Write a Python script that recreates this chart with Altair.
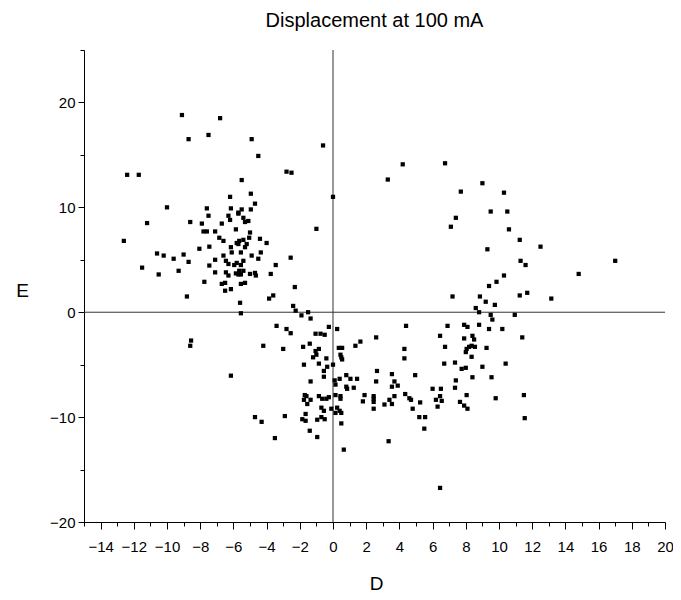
import altair as alt
import pandas as pd

# Scatter values (D = x, E = y)
D = [
    -9.1, -6.8, -7.5, -8.7, -12.4, -11.7, -6.2, -10.0, -7.6, -6.15, -7.5, -6.3, -6.2, -11.2, -8.6, -7.9, -6.7, -7.8, -7.6, -7.1, -5.85, -5.7,
    -4.9, -4.5, -0.6, -2.8, -2.5, -5.5, 0.0, -4.95, -4.7, -5.5, -4.95, -5.7, -5.4, -5.3, -5.1, -5.0, -1.0,
    4.2, 3.3, 6.75, 9.0, 7.7, 9.5, 7.4, 7.1,
    10.3, 10.5, 10.6,
    -12.6, -10.6, -10.2, -9.6, -9.0, -8.7, -11.5, -10.5, -9.3, -8.05, -7.45, -6.85, -6.6, -6.15, -6.1, -5.8, -7.1, -7.45, -6.6, -6.45, -6.3, -5.95, -5.8, -7.1, -6.45, -6.3, -5.85, -7.75, -6.7, -6.5, -6.15, -6.5, -8.8, -8.55, -8.6,
    -5.05, -4.4, -4.0, -5.65, -5.4, -5.7, -5.2, -5.3, -5.55, -4.35, -4.9, -4.5, -2.55, -5.4, -5.55, -3.45, -5.4, -5.65, -5.7, -5.55, -5.0, -4.7, -4.65, -3.75, -5.3, -5.55, -2.3, -3.6, -3.85, -5.6, -5.55, -2.4, -2.25, -1.9, -1.5, -1.35, -3.4, -2.8, -2.55, -0.25, 0.25, -1.05, -0.75, -0.5, 1.65, 1.35, -4.2, -3.0, -1.8, -1.4, -0.85, -1.05, -1.0, -1.2, -0.4, 0.35, 0.55, 0.45, 0.5, 0.55, -1.75, -0.85, 0.0,
    9.3, 9.85, 9.4, 7.2, 8.85, 9.2, 9.75, 8.6, 8.8, 9.5, 9.6, 4.4, 6.9, 7.9, 8.1, 8.8, 9.4, 2.6, 6.45, 7.9, 8.4, 8.5, 4.3, 6.75, 8.2, 8.35, 8.55, 8.05, 8.0, 9.25, 4.3, 8.35, 6.7, 7.35,
    11.25, 12.5, 11.3, 11.6, 17.0, 14.8, 10.3, 11.25, 11.7, 13.15, 10.95, 10.2, 11.4, 10.4,
    -6.15,
    -0.35, -0.55, -0.55, -1.35, 0.1, 0.4, 0.15, 0.8, 1.05, 1.45, 0.8, 0.85, 1.25, 1.9, 1.8, -1.7, -1.6, -1.75, -1.35, -1.55, -0.85, -0.65, -0.4, -0.25, 0.15, 0.45, 0.45, -0.7, -0.55, -0.1, 0.25, 0.4, 0.15, 0.5, -1.65, -1.85, -1.65, -0.95, -0.7, -0.5, -2.9, -4.7, -4.3, -3.5, -1.4, -0.95, 0.5, 0.65,
    7.75, 8.0, 9.0, 2.65, 3.55, 4.95, 8.4, 9.55, 2.6, 3.7, 3.55, 3.9, 7.4, 7.35, 6.0, 6.5, 2.45, 2.45, 2.45, 3.7, 3.4, 3.55, 3.1, 2.45, 4.35, 4.6, 4.7, 5.25, 4.8, 5.2, 5.55, 5.5, 3.35, 6.45, 6.2, 6.55, 6.3, 7.65, 7.9, 8.1, 8.05, 9.8, 6.45,
    11.5, 11.55,
]
E = [
    18.8, 18.5, 16.9, 16.5, 13.1, 13.1, 11.0, 10.0, 9.9, 9.9, 9.2, 9.2, 8.8, 8.5, 8.6, 8.45, 8.45, 7.7, 7.7, 7.7, 7.9, 9.5,
    16.5, 14.9, 15.9, 13.4, 13.3, 12.6, 11.0, 11.3, 10.35, 9.8, 9.8, 9.4, 9.0, 8.6, 8.7, 7.6, 7.95,
    14.1, 12.65, 14.2, 12.3, 11.5, 9.6, 9.0, 8.15,
    11.4, 9.6, 7.9,
    6.8, 5.6, 5.4, 5.1, 5.5, 4.8, 4.25, 3.6, 3.95, 6.05, 6.25, 7.1, 6.8, 6.2, 5.7, 6.6, 5.0, 4.45, 5.4, 4.9, 4.6, 4.5, 4.7, 3.8, 3.8, 3.5, 3.7, 2.9, 2.7, 2.8, 2.2, 2.05, 1.5, -2.7, -3.2,
    7.1, 7.0, 6.6, 6.8, 6.9, 6.5, 6.5, 6.2, 5.7, 5.7, 5.4, 5.1, 5.2, 4.9, 4.5, 4.5, 3.95, 3.95, 3.6, 3.6, 3.65, 3.75, 3.5, 3.65, 2.8, 2.7, 2.4, 1.6, 1.3, 0.9, -0.1, 0.6, 0.15, -0.3, 0.0, -0.6, -1.3, -1.6, -2.0, -1.4, -1.6, -2.05, -2.05, -2.15, -2.8, -3.2, -3.2, -3.5, -3.3, -3.0, -3.5, -3.7, -4.05, -4.3, -4.4, -3.4, -3.4, -4.05, -4.3, -4.5, -5.0, -4.9, -5.0,
    6.0, 2.9, 2.5, 1.5, 1.5, 1.0, 0.7, 0.4, 0.0, -0.25, -0.7, -1.3, -1.3, -1.2, -1.4, -1.2, -1.6, -2.4, -2.25, -2.5, -2.25, -2.6, -3.5, -3.3, -3.3, -3.2, -3.3, -3.5, -3.8, -3.4, -4.4, -4.25, -4.9, -4.8,
    6.9, 6.25, 4.9, 4.5, 4.9, 3.65, 3.5, 1.6, 1.85, 1.3, -0.25, -1.6, -2.4, -4.9,
    -6.05,
    -5.2, -5.6, -6.15, -6.6, -6.5, -6.35, -6.9, -6.0, -6.35, -6.35, -7.1, -7.3, -7.2, -7.9, -8.5, -7.9, -8.0, -8.35, -8.35, -8.75, -8.0, -8.25, -8.25, -8.1, -7.9, -8.0, -8.25, -9.1, -9.4, -9.2, -9.1, -9.4, -9.6, -9.6, -9.7, -10.2, -10.35, -10.25, -10.0, -10.2, -9.9, -10.0, -10.45, -12.0, -11.3, -11.9, -10.6, -13.1,
    -5.4, -5.3, -5.2, -5.6, -5.9, -6.0, -6.2, -6.2, -6.6, -6.6, -7.1, -7.0, -6.5, -7.2, -7.3, -7.3, -8.0, -8.25, -8.55, -8.0, -8.35, -8.75, -8.8, -9.2, -7.8, -8.2, -8.35, -8.6, -9.2, -10.0, -10.0, -11.1, -12.3, -8.0, -8.35, -8.45, -9.0, -8.55, -8.9, -9.2, -7.9, -8.2, -16.75,
    -7.9, -10.1,
]

X_MAJOR = list(range(-14, 21, 2))
X_MINOR = list(range(-15, 21, 2))
Y_MAJOR = [-20, -10, 0, 10, 20]
Y_MINOR = [-15, -5, 5, 15, 25]
TITLE = "Displacement at 100 mA"

FONT = "Liberation Sans"

df = pd.DataFrame({"D": D, "E": E})
zero = pd.DataFrame({"v": [0]})

xscale = alt.Scale(domain=[-15, 20], nice=False, zero=False)
yscale = alt.Scale(domain=[-20, 25], nice=False, zero=False)

rule_x = alt.Chart(zero).mark_rule(color="#333333", strokeWidth=1).encode(
    x=alt.X("v:Q", scale=xscale, axis=None)
)
rule_y = alt.Chart(zero).mark_rule(color="#333333", strokeWidth=1).encode(
    y=alt.Y("v:Q", scale=yscale, axis=None)
)

points = alt.Chart(df).mark_square(size=18, color="black", opacity=1).encode(
    x=alt.X("D:Q", scale=xscale,
            axis=alt.Axis(values=X_MAJOR, tickSize=7, labelPadding=10, title="D",
                          titleX=292, titleY=61, titleAlign="center",
                          titleBaseline="middle", orient="bottom",
                          labelFlush=False)),
    y=alt.Y("E:Q", scale=yscale,
            axis=alt.Axis(values=Y_MAJOR, tickSize=6, labelPadding=3, title="E",
                          titleAngle=0, titleX=-62, titleY=240,
                          titleAlign="center", titleBaseline="middle",
                          orient="left", labelFlush=False)),
)

minor = alt.Chart(df).mark_point(opacity=0).encode(
    x=alt.X("D:Q", scale=xscale,
            axis=alt.Axis(values=X_MINOR, tickSize=4, labels=False, title=None,
                          domain=False, orient="bottom")),
    y=alt.Y("E:Q", scale=yscale,
            axis=alt.Axis(values=Y_MINOR, tickSize=4, labels=False, title=None,
                          domain=False, orient="left")),
)

chart = alt.layer(rule_x, rule_y, points, minor).resolve_axis(
    x="independent", y="independent"
).properties(
    width=581,
    height=472,
    padding={"left": 76, "top": 42, "right": 8, "bottom": 70},
    autosize=alt.AutoSizeParams(type="none"),
    title=alt.TitleParams(TITLE, fontSize=20, font=FONT, fontWeight="normal",
                          anchor="middle", offset=19, color="black"),
).configure_view(stroke=None).configure_axis(
    grid=False,
    domainColor="black",
    tickColor="black",
    labelColor="black",
    titleColor="black",
    labelFont=FONT,
    titleFont=FONT,
    labelFontSize=15,
    titleFontSize=19,
    titleFontWeight="normal",
)

chart.save("out.html", embed_options={"renderer": "svg", "actions": False})
